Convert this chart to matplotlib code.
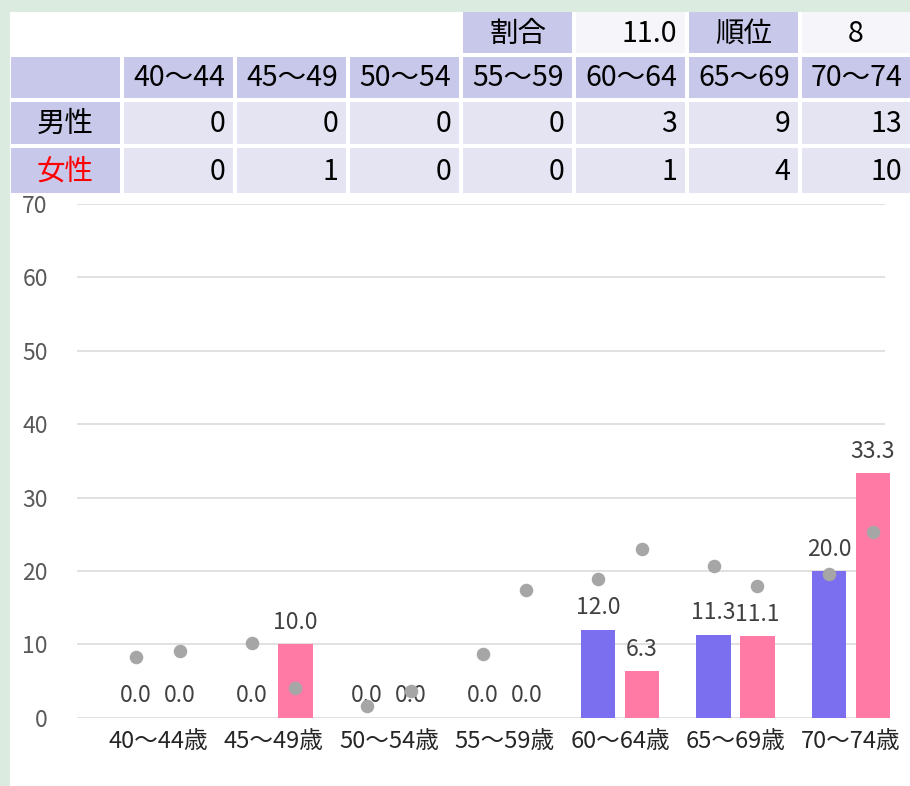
import matplotlib.pyplot as plt
import numpy as np
from matplotlib.patches import Rectangle

plt.rcParams["font.family"] = ["Noto Sans CJK JP", "DejaVu Sans"]

# data
age_groups = ["40〜44", "45〜49", "50〜54", "55〜59", "60〜64", "65〜69", "70〜74"]
male_counts = [0, 0, 0, 0, 3, 9, 13]
female_counts = [0, 1, 0, 0, 1, 4, 10]
ratio_value = "11.0"
rank_value = "8"

male_rate = [0.0, 0.0, 0.0, 0.0, 12.0, 11.3, 20.0]
female_rate = [0.0, 10.0, 0.0, 0.0, 6.3, 11.1, 33.3]
male_ref = [8.3, 10.2, 1.6, 8.7, 18.9, 20.7, 19.6]
female_ref = [9.1, 4.0, 3.6, 17.4, 23.0, 17.9, 25.3]

W, H = 910, 786
HEAD = "#c8c8ea"
CELL = "#e4e4f3"
LIGHT = "#f5f5fa"
MALE = "#7b6ff0"
FEMALE = "#ff7ba6"
DOT = "#a6a6a6"

fig = plt.figure(figsize=(W / 100, H / 100), dpi=100)
fig.patch.set_facecolor("#dcebe0")

# overlay in pixel coordinates for the panel and the table
ov = fig.add_axes([0, 0, 1, 1])
ov.set_xlim(0, W)
ov.set_ylim(H, 0)
ov.axis("off")
ov.add_patch(Rectangle((10, 12), W - 10, H - 12, facecolor="white", edgecolor="none"))

col_left = [124 + 113 * i for i in range(7)]
col_w = 109
rows = [(12, 53), (57, 98), (102, 144), (148, 193)]
tfs = 20.5


def cell(x0, x1, r, color, text="", ha="center", tcolor="black"):
    y0, y1 = rows[r]
    ov.add_patch(Rectangle((x0, y0), x1 - x0, y1 - y0, facecolor=color, edgecolor="none"))
    if text:
        tx = (x0 + x1) / 2 if ha == "center" else x1 - 8
        ov.text(tx, (y0 + y1) / 2 + 1, text, ha=ha, va="center", fontsize=tfs, color=tcolor)


# top row
cell(col_left[3], col_left[3] + col_w, 0, HEAD, "割合")
cell(col_left[4], col_left[4] + col_w, 0, LIGHT, ratio_value, ha="right")
cell(col_left[5], col_left[5] + col_w, 0, HEAD, "順位")
cell(col_left[6], W, 0, LIGHT, rank_value)

# header row and data rows
cell(11, 120, 1, HEAD)
cell(11, 120, 2, HEAD, "男性")
cell(11, 120, 3, HEAD, "女性", tcolor="red")
for i, g in enumerate(age_groups):
    x0 = col_left[i]
    x1 = W if i == 6 else x0 + col_w
    cell(x0, x1, 1, HEAD, g, ha="right")
    cell(x0, x1, 2, CELL, str(male_counts[i]), ha="right")
    cell(x0, x1, 3, CELL, str(female_counts[i]), ha="right")

# chart
ax_l, ax_r, ax_t, ax_b = 77, 885, 204, 717.7
ax = fig.add_axes([ax_l / W, (H - ax_b) / H, (ax_r - ax_l) / W, (ax_b - ax_t) / H])
ax.patch.set_alpha(0)
x = np.arange(len(age_groups))
ax.set_xlim((ax_l - 158) / 115.5, (ax_r - 158) / 115.5)
ax.set_ylim(0, 70)

bw = 0.30
off = 0.19
ax.bar(x - off, male_rate, width=bw, color=MALE, edgecolor="none", zorder=2, clip_on=False)
ax.bar(x + off, female_rate, width=bw, color=FEMALE, edgecolor="none", zorder=2, clip_on=False)
ax.scatter(x - off, male_ref, s=95, color=DOT, zorder=4, clip_on=False, linewidths=0)
ax.scatter(x + off, female_ref, s=95, color=DOT, zorder=4, clip_on=False, linewidths=0)

for xs, vals in ((x - off, male_rate), (x + off, female_rate)):
    for xi, v in zip(xs, vals):
        ax.annotate(f"{v:.1f}", (xi, v), xytext=(0, 11), textcoords="offset points",
                    ha="center", va="baseline", fontsize=16.5, color="#404040", zorder=3)

ax.set_yticks(range(0, 71, 10))
ax.grid(axis="y", color="#d9d9d9", linewidth=1.1, zorder=0)
ax.set_axisbelow(True)
ax.set_xticks(x)
ax.set_xticklabels([g + "歳" for g in age_groups])
ax.tick_params(axis="x", length=0, pad=9, labelsize=17, labelcolor="#262626")
ax.tick_params(axis="y", length=0, pad=21, labelsize=16.5, labelcolor="#595959")
for s in ax.spines.values():
    s.set_visible(False)

fig.savefig("out.png", dpi=100, facecolor=fig.get_facecolor())
